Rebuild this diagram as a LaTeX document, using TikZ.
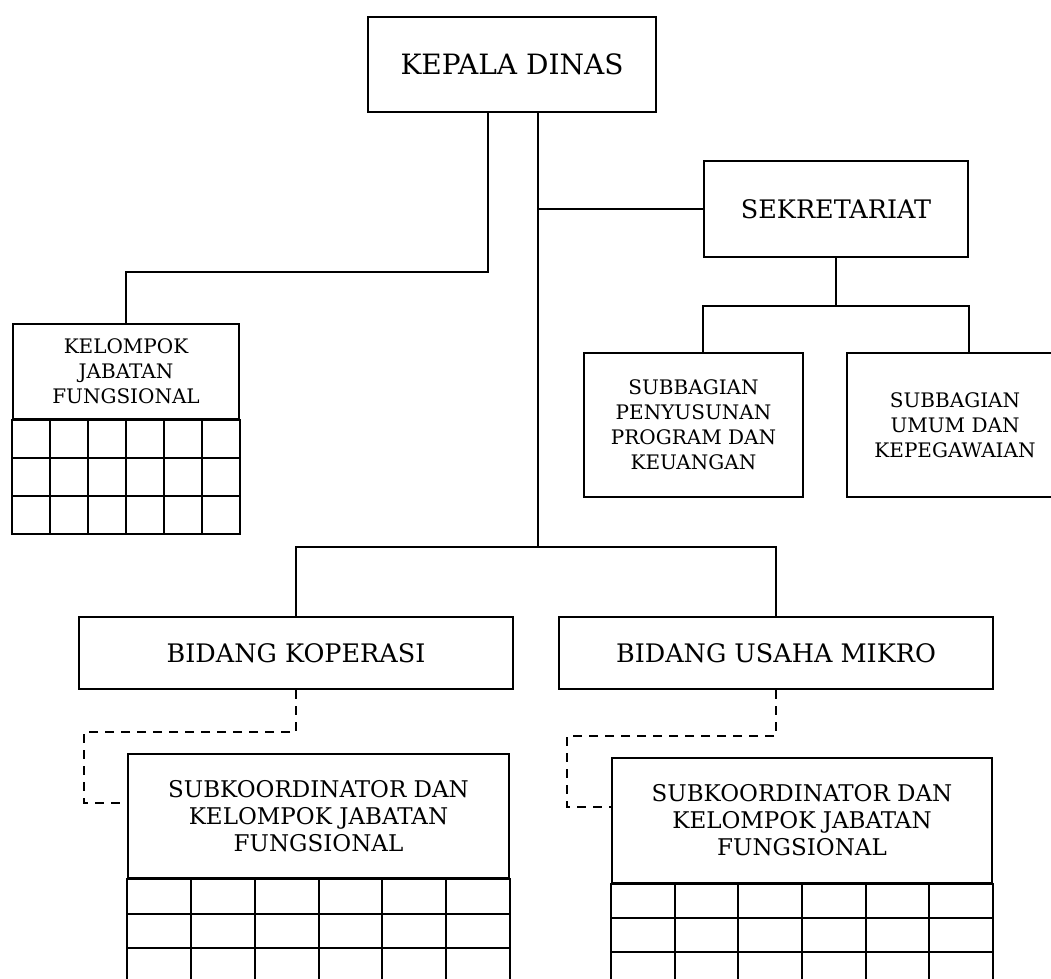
\documentclass[tikz,border=0pt]{standalone}
\usepackage{fontspec}
\setmainfont{DejaVu Serif}
\usetikzlibrary{calc}

\begin{document}
\begin{tikzpicture}[x=1pt, y=-1pt,
    BOX/.style={rectangle, draw=black, line width=2pt, inner sep=0pt, align=center},
    BIG/.style={BOX, font=\fontsize{28}{30}\selectfont},
    MID/.style={BOX, font=\fontsize{23}{27}\selectfont},
    SML/.style={BOX, font=\fontsize{20}{25}\selectfont},
    LNK/.style={line width=2pt},
    DSH/.style={line width=2pt, dash pattern=on 9pt off 7pt}
    ]
        \useasboundingbox (0,0) rectangle (1051,978);
        \clip (0,0) rectangle (1051,978);
        \node[BIG, anchor=north west, minimum width=288, minimum height=95] (KD) at (367,16) {KEPALA DINAS};
        \node[BIG, font=\fontsize{25.5}{30}\selectfont, anchor=north west, minimum width=264, minimum height=96] (SK) at (703,160) {SEKRETARIAT};
        \node[SML, anchor=north west, minimum width=226, minimum height=95] (KJF) at (12,323) {KELOMPOK\\JABATAN\\FUNGSIONAL};
        \node[SML, anchor=north west, minimum width=219, minimum height=144] (SB1) at (583,352) {SUBBAGIAN\\PENYUSUNAN\\PROGRAM DAN\\KEUANGAN};
        \node[SML, anchor=north west, minimum width=216, minimum height=144] (SB2) at (846,352) {SUBBAGIAN\\UMUM DAN\\KEPEGAWAIAN};
        \node[MID, font=\fontsize{25.5}{27}\selectfont, anchor=north west, minimum width=434, minimum height=72] (BK) at (78,616) {BIDANG KOPERASI};
        \node[MID, font=\fontsize{25.5}{27}\selectfont, anchor=north west, minimum width=434, minimum height=72] (BU) at (558,616) {BIDANG USAHA MIKRO};
        \node[MID, anchor=north west, minimum width=381, minimum height=124] (S1) at (127,753) {SUBKOORDINATOR DAN\\KELOMPOK JABATAN\\FUNGSIONAL};
        \node[MID, anchor=north west, minimum width=380, minimum height=125] (S2) at (611,757) {SUBKOORDINATOR DAN\\KELOMPOK JABATAN\\FUNGSIONAL};
        \foreach \n/\h in {KJF/38, S1/34.5, S2/34} {
            \draw[LNK] (\n.south west) rectangle ($(\n.south east)+(0,3*\h)$);
            \foreach \i in {1,...,5}
                \draw[LNK] ($(\n.south west)!\i/6!(\n.south east)$) -- ++(0,3*\h);
            \foreach \j in {1,2}
                \draw[LNK] ($(\n.south west)+(0,\j*\h)$) -- ($(\n.south east)+(0,\j*\h)$);
        }
        \draw[LNK] ($(KD.south)+(-24,0)$) -- ++(0,159) -| (KJF.north);
        \draw[LNK] ($(KD.south)+(26,0)$) -- ++(0,434) coordinate (J2);
        \draw[LNK] (SK.west) -- (SK.west -| J2);
        \draw[LNK] (BK.north) |- (J2);
        \draw[LNK] (BU.north) |- (J2);
        \coordinate (J3) at ($(SK.south)+(0,48)$);
        \draw[LNK] (SK.south) -- (J3);
        \draw[LNK] (SK.south west |- SB1.north) |- (J3) -| (SK.south east |- SB2.north);
        \draw[DSH] (BK.south) -- ++(0,42) -| ($(S1.north west)+(-43,50)$) -- ($(S1.north west)+(0,50)$);
        \draw[DSH] (BU.south) -- ++(0,46) -| ($(S2.north west)+(-44,50)$) -- ($(S2.north west)+(0,50)$);
    \end{tikzpicture}
\end{document}
